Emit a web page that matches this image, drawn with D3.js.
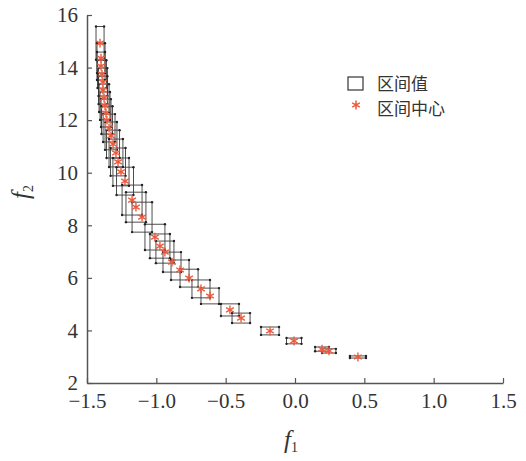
<!DOCTYPE html>
<html>
<head>
<meta charset="utf-8">
<script src="https://cdn.jsdelivr.net/npm/d3@7"></script>
<style>
  body { margin: 0; background: #fff; }
  svg { display: block; }
</style>
</head>
<body>
<div id="chart"></div>
<script>
// Interval-valued Pareto front: each solution is a box [f1Low,f1High] x [f2Low,f2High]
const f1Low  = [-1.435, -1.428, -1.428, -1.424, -1.417, -1.417, -1.413, -1.406, -1.399, -1.396, -1.384, -1.370,
                -1.359, -1.341, -1.330, -1.313, -1.287, -1.247, -1.219, -1.175, -1.082, -1.046, -1.003, -0.952,
                -0.894, -0.829, -0.743, -0.678, -0.534, -0.454, -0.245, -0.061, 0.145, 0.195, 0.396];
const f1High = [-1.377, -1.370, -1.370, -1.360, -1.353, -1.353, -1.341, -1.334, -1.327, -1.316, -1.298, -1.284,
                -1.265, -1.241, -1.222, -1.197, -1.165, -1.103, -1.075, -1.031, -0.938, -0.902, -0.873, -0.822,
                -0.764, -0.699, -0.613, -0.548, -0.404, -0.324, -0.115, 0.047, 0.245, 0.295, 0.512];
const f2Low  = [14.30, 13.79, 13.53, 13.22, 12.92, 12.61, 12.31, 12.01, 11.74, 11.47, 11.17, 10.87,
                10.56, 10.22, 9.88, 9.50, 9.15, 8.39, 8.12, 7.74, 7.06, 6.75, 6.56, 6.22,
                5.92, 5.65, 5.24, 5.01, 4.55, 4.28, 3.83, 3.49, 3.21, 3.14, 2.95];
const f2High = [15.56, 14.93, 14.59, 14.28, 13.98, 13.67, 13.37, 13.07, 12.80, 12.53, 12.23, 11.93,
                11.62, 11.28, 10.94, 10.56, 10.21, 9.53, 9.26, 8.88, 8.04, 7.67, 7.40, 6.98,
                6.68, 6.33, 5.92, 5.61, 5.01, 4.66, 4.13, 3.71, 3.37, 3.30, 3.03];

const xTicks = [-1.5, -1.0, -0.5, 0.0, 0.5, 1.0, 1.5];
const yTicks = [2, 4, 6, 8, 10, 12, 14, 16];
const legendLabels = ["区间值", "区间中心"];

const W = 526, H = 461;
const m = { left: 87, right: 503, top: 15, bottom: 383 };

const x = d3.scaleLinear().domain([-1.5, 1.5]).range([m.left, m.right]);
const y = d3.scaleLinear().domain([2, 16]).range([m.bottom, m.top]);

const axisColor = "#555";
const textColor = "#333";
const red = "#ec5a3e";
const serif = "'Liberation Serif', 'DejaVu Serif', serif";
const cjk = "'Noto Sans CJK SC', 'Noto Sans', sans-serif";

const svg = d3.select("#chart").append("svg")
  .attr("width", W).attr("height", H);

const boxes = f1Low.map((d, i) => ({
  x0: f1Low[i], x1: f1High[i], y0: f2Low[i], y1: f2High[i],
  cx: (f1Low[i] + f1High[i]) / 2, cy: (f2Low[i] + f2High[i]) / 2
}));

// boxes
const g = svg.append("g");
g.selectAll("rect.box").data(boxes).enter().append("rect")
  .attr("class", "box")
  .attr("x", d => x(d.x0))
  .attr("y", d => y(d.y1))
  .attr("width", d => x(d.x1) - x(d.x0))
  .attr("height", d => y(d.y0) - y(d.y1))
  .attr("fill", "none")
  .attr("stroke", "#3a3a3a")
  .attr("stroke-width", 0.9);

// corner dots
const corners = boxes.flatMap(d => [
  [d.x0, d.y0], [d.x1, d.y0], [d.x0, d.y1], [d.x1, d.y1]
]);
g.selectAll("circle.corner").data(corners).enter().append("circle")
  .attr("class", "corner")
  .attr("cx", d => x(d[0]))
  .attr("cy", d => y(d[1]))
  .attr("r", 1.2)
  .attr("fill", "#222");

// centres
const star = d3.symbol().type(d3.symbolAsterisk).size(55);
g.selectAll("path.centre").data(boxes).enter().append("path")
  .attr("class", "centre")
  .attr("d", star)
  .attr("transform", d => `translate(${x(d.cx)},${y(d.cy)})`)
  .attr("fill", "none")
  .attr("stroke", red)
  .attr("stroke-width", 1.4);

// axes
const xAxis = svg.append("g").attr("transform", `translate(0,${m.bottom})`)
  .call(d3.axisBottom(x).tickValues(xTicks).tickSizeInner(-5).tickSizeOuter(0)
    .tickFormat(d => d3.format(".1f")(d).replace("-", "\u2212")));
const yAxis = svg.append("g").attr("transform", `translate(${m.left},0)`)
  .call(d3.axisLeft(y).tickValues(yTicks).tickSizeInner(-5).tickSizeOuter(0));

[xAxis, yAxis].forEach(a => {
  a.select(".domain").attr("stroke", axisColor).attr("stroke-width", 1.5);
  a.selectAll(".tick line").attr("stroke", axisColor).attr("stroke-width", 1.2);
  a.selectAll(".tick text")
    .attr("fill", textColor)
    .style("font-family", serif)
    .style("font-size", "21px");
});
xAxis.selectAll(".tick text").attr("dy", null).attr("y", 25);
yAxis.selectAll(".tick text").attr("x", -9);

// axis titles
const xt = svg.append("text")
  .attr("x", 291).attr("y", 448)
  .attr("fill", textColor)
  .style("font-family", serif)
  .attr("text-anchor", "middle");
xt.append("tspan").style("font-style", "italic").style("font-size", "25px").text("f");
xt.append("tspan").attr("dy", 4).style("font-size", "14px").text("1");

const yt = svg.append("text")
  .attr("transform", "translate(29,192) rotate(-90)")
  .attr("fill", textColor)
  .style("font-family", serif)
  .attr("text-anchor", "middle");
yt.append("tspan").style("font-style", "italic").style("font-size", "25px").text("f");
yt.append("tspan").attr("dy", 4).style("font-size", "14px").text("2");

// legend
const lg = svg.append("g");
lg.append("rect")
  .attr("x", 348).attr("y", 77).attr("width", 15).attr("height", 13)
  .attr("fill", "none").attr("stroke", "#333").attr("stroke-width", 1.2);
lg.append("path")
  .attr("d", d3.symbol().type(d3.symbolAsterisk).size(55))
  .attr("transform", "translate(356,105)")
  .attr("fill", "none").attr("stroke", red).attr("stroke-width", 1.5);
lg.selectAll("text").data(legendLabels).enter().append("text")
  .attr("x", 377)
  .attr("y", (d, i) => 90 + i * 25)
  .attr("fill", textColor)
  .style("font-family", cjk)
  .style("font-size", "17px")
  .text(d => d);
</script>
</body>
</html>
